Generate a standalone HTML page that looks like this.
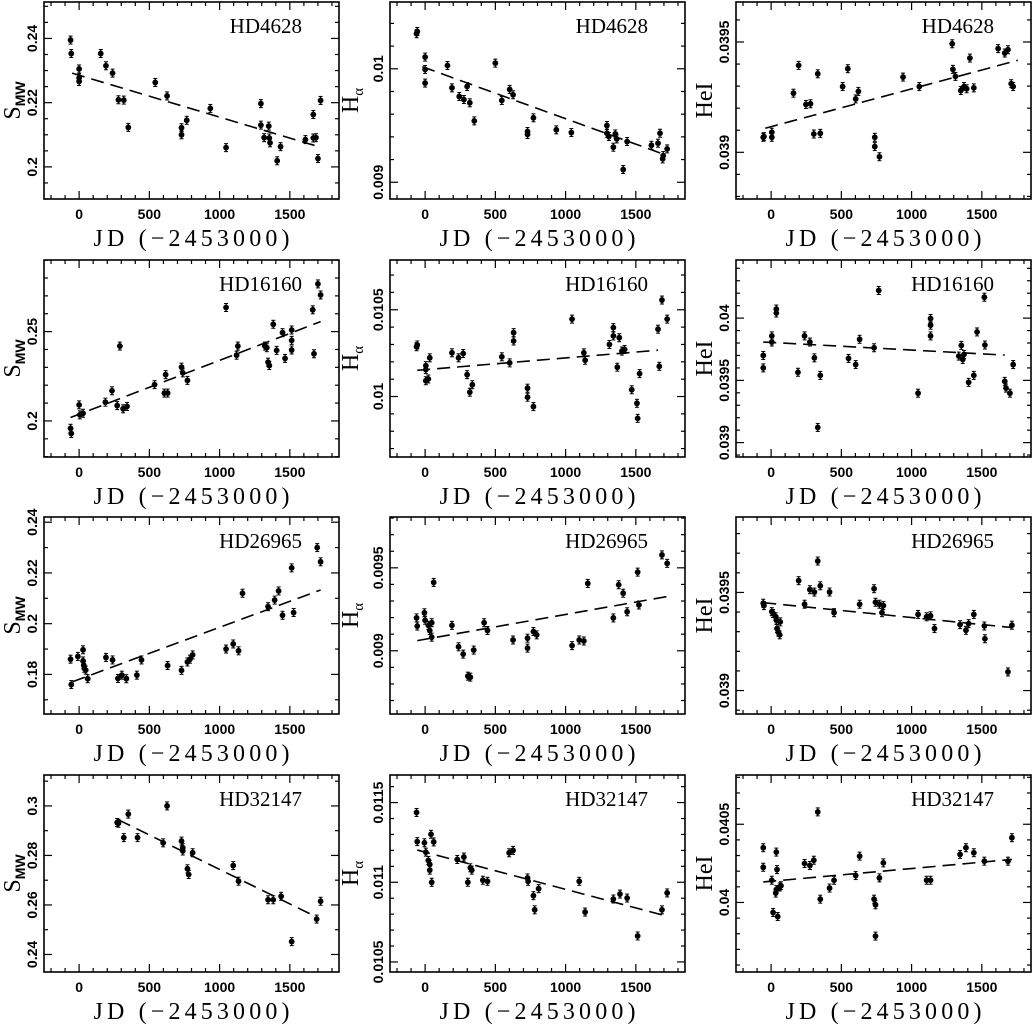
<!DOCTYPE html>
<html><head><meta charset="utf-8"><style>
html,body{margin:0;padding:0;background:#fff;}
svg{display:block;}
text{fill:#000;}
.tl{font-family:"Liberation Sans",sans-serif;font-size:14px;font-weight:bold;}
.ser{font-family:"Liberation Serif",serif;}
</style></head><body>
<svg id="fig" width="1033" height="1031" viewBox="0 0 1033 1031" xmlns="http://www.w3.org/2000/svg"></svg>
<script>
// ---- data (JD-2453000, value) ----
const p11x=[-61,-56,0,0,0,154,191,238,280,318,350,542,626,729,729,766,934,1046,1294,1294,1317,1350,1354,1359,1434,1410,1611,1667,1667,1686,1700,1719];
const p11y=[0.2395,0.2353,0.2305,0.2277,0.2266,0.2353,0.2315,0.2292,0.2209,0.2208,0.2123,0.2263,0.2221,0.2122,0.2100,0.2145,0.2182,0.2060,0.2197,0.2130,0.2091,0.2127,0.2090,0.2075,0.2063,0.2019,0.2085,0.2163,0.2090,0.2091,0.2026,0.2207];
const p11fit=[-50,1720,0.2292,0.2061];
const p12x=[-61,-56,0,0,0,159,191,243,276,318,299,350,500,546,602,626,729,729,771,934,1041,1294,1294,1308,1340,1354,1364,1410,1438,1611,1658,1672,1691,1695,1723];
const p12y=[0.010309,0.010329,0.010103,0.009994,0.009874,0.010029,0.009832,0.009756,0.009729,0.009700,0.009844,0.009541,0.010050,0.009721,0.009818,0.009771,0.009447,0.009421,0.009568,0.009462,0.009438,0.009500,0.009432,0.009403,0.009309,0.009426,0.009382,0.009112,0.009359,0.009326,0.009344,0.009432,0.009206,0.009235,0.009294];
const p12fit=[-20,1720,0.010018,0.009237];
const p13x=[-56,-51,5,5,159,196,248,280,304,332,350,509,546,602,621,738,738,771,939,1055,1289,1294,1312,1350,1373,1392,1415,1443,1616,1663,1686,1709,1723];
const p13y=[0.039068,0.039071,0.039091,0.039068,0.039268,0.039394,0.039217,0.039220,0.039083,0.039356,0.039086,0.039298,0.039379,0.039242,0.039276,0.039026,0.039068,0.038980,0.039341,0.039298,0.039492,0.039376,0.039344,0.039280,0.039298,0.039288,0.039427,0.039292,0.039470,0.039450,0.039465,0.039311,0.039298];
const p13fit=[-42,1756,0.039109,0.039417];
const p21x=[-61,-56,0,5,28,187,234,271,313,341,290,537,607,630,616,729,738,771,1046,1130,1121,1322,1336,1345,1354,1382,1406,1448,1466,1513,1513,1513,1663,1672,1700,1719];
const p21y=[0.1959,0.1930,0.2090,0.2034,0.2043,0.2105,0.2169,0.2086,0.2068,0.2081,0.2419,0.2203,0.2156,0.2156,0.2259,0.2301,0.2269,0.2227,0.2635,0.2419,0.2368,0.2419,0.2410,0.2329,0.2310,0.2541,0.2395,0.2494,0.2350,0.2509,0.2451,0.2397,0.2622,0.2376,0.2767,0.2705];
const p21fit=[-61,1719,0.2019,0.2556];
const p22x=[-61,-56,5,5,5,23,33,191,238,271,299,318,336,546,602,630,630,729,729,771,1046,1130,1139,1312,1340,1340,1368,1382,1401,1420,1471,1508,1513,1527,1658,1667,1686,1723];
const p22y=[0.010287,0.010297,0.010178,0.010155,0.010091,0.010101,0.010223,0.010252,0.010223,0.010248,0.010126,0.010025,0.010068,0.010229,0.010194,0.010368,0.010320,0.010048,0.009996,0.009942,0.010446,0.010252,0.010209,0.010300,0.010397,0.010349,0.010169,0.010339,0.010262,0.010271,0.010039,0.009961,0.009874,0.010132,0.010388,0.010174,0.010556,0.010446];
const p22fit=[-56,1658,0.010151,0.010267];
const p23x=[-56,-56,5,5,37,37,191,238,276,308,332,350,551,602,630,733,766,1046,1135,1135,1135,1336,1354,1364,1373,1406,1443,1466,1518,1522,1663,1672,1700,1723];
const p23y=[0.039700,0.039600,0.039857,0.039808,0.040073,0.040041,0.039565,0.039857,0.039808,0.039681,0.039122,0.039540,0.039676,0.039627,0.039830,0.039762,0.040222,0.039397,0.039997,0.039943,0.039857,0.039695,0.039781,0.039668,0.039708,0.039484,0.039540,0.039889,0.040168,0.039784,0.039492,0.039438,0.039397,0.039627];
const p23fit=[-56,1663,0.039808,0.039703];
const p31x=[-61,-56,-9,28,28,33,37,47,61,191,238,276,304,336,411,444,630,729,771,789,808,1046,1097,1135,1163,1345,1392,1420,1448,1513,1527,1695,1719];
const p31y=[0.1860,0.1760,0.1871,0.1897,0.1853,0.1836,0.1824,0.1817,0.1783,0.1867,0.1857,0.1784,0.1797,0.1783,0.1797,0.1857,0.1835,0.1816,0.1849,0.1860,0.1877,0.1900,0.1920,0.1893,0.2120,0.2067,0.2093,0.2129,0.2033,0.2220,0.2044,0.2300,0.2244];
const p31fit=[-47,1719,0.1771,0.2133];
const p32x=[-61,-56,-5,0,23,33,47,47,61,191,238,271,304,322,346,420,444,626,729,729,771,794,1046,1097,1130,1158,1340,1378,1410,1438,1513,1522,1686,1723];
const p32y=[0.009198,0.009149,0.009229,0.009184,0.009153,0.009122,0.009169,0.009082,0.009412,0.009153,0.009024,0.008980,0.008847,0.008841,0.009004,0.009169,0.009122,0.009065,0.009076,0.009016,0.009116,0.009096,0.009031,0.009065,0.009059,0.009406,0.009198,0.009398,0.009347,0.009235,0.009474,0.009276,0.009578,0.009527];
const p32fit=[-56,1723,0.009061,0.009327];
const p33x=[-56,-51,5,14,33,37,42,51,61,65,196,238,276,308,332,350,416,448,630,733,743,771,799,789,1046,1107,1135,1163,1345,1387,1406,1443,1518,1522,1686,1714];
const p33y=[0.039445,0.039433,0.039402,0.039393,0.039376,0.039359,0.039316,0.039298,0.039284,0.039350,0.039560,0.039440,0.039514,0.039502,0.039660,0.039534,0.039502,0.039397,0.039440,0.039519,0.039450,0.039440,0.039433,0.039397,0.039388,0.039376,0.039381,0.039316,0.039336,0.039307,0.039341,0.039388,0.039329,0.039264,0.039095,0.039333];
const p33fit=[-56,1714,0.039448,0.039321];
const p41x=[271,280,318,350,416,598,626,729,738,738,771,780,808,1097,1135,1345,1382,1438,1513,1691,1719];
const p41y=[0.2933,0.2930,0.2872,0.2967,0.2872,0.2851,0.3000,0.2858,0.2831,0.2818,0.2746,0.2723,0.2811,0.2759,0.2696,0.2621,0.2621,0.2635,0.2452,0.2543,0.2615];
const p41fit=[280,1691,0.2944,0.2551];
const p42x=[-61,-56,-5,5,23,33,33,42,47,61,229,276,304,322,332,411,444,598,626,729,733,771,780,808,1097,1139,1340,1387,1438,1513,1686,1723];
const p42y=[0.011438,0.011255,0.011248,0.011189,0.011137,0.011112,0.011076,0.011301,0.011000,0.011253,0.011143,0.011158,0.011000,0.011091,0.011076,0.011013,0.011006,0.011185,0.011200,0.011027,0.011006,0.010916,0.010827,0.010960,0.011006,0.010813,0.010895,0.010926,0.010901,0.010663,0.010827,0.010933];
const p42fit=[-56,1714,0.011202,0.010789];
const p43x=[-56,-56,5,14,33,37,37,42,47,61,70,238,276,304,332,350,416,448,602,630,733,743,743,771,799,1107,1135,1345,1387,1443,1518,1686,1714];
const p43y=[0.040350,0.040225,0.040142,0.039936,0.040060,0.040082,0.040322,0.040210,0.039910,0.040099,0.040107,0.040249,0.040236,0.040270,0.040579,0.040021,0.040092,0.040142,0.040172,0.040296,0.040021,0.039985,0.039785,0.040157,0.040253,0.040142,0.040142,0.040307,0.040350,0.040318,0.040264,0.040264,0.040414];
const p43fit=[-56,1714,0.040131,0.040275];
const starNames=["HD4628","HD16160","HD26965","HD32147"];
const xTickLabels=[0,500,1000,1500];

// ---- layout / axes ----
const NS="http://www.w3.org/2000/svg";
const svg=document.getElementById('fig');
const colLeft=[44,390,736], rowTop=[2,260,517,775], W=295, H=197;
const XMIN=-250, XMAX=1850;
// calibration: [v1,frac1,v2,frac2,majorStep,minorStep]
const panels=[
 [p11x,p11y,p11fit,[0.24,0.185,0.2,0.837,0.02,0.005]],
 [p12x,p12y,p12fit,[0.01,0.339,0.009,0.915,0.001,0.0002]],
 [p13x,p13y,p13fit,[0.0395,0.203,0.039,0.763,0.0005,0.0001]],
 [p21x,p21y,p21fit,[0.25,0.3635,0.2,0.817,0.05,0.01]],
 [p22x,p22y,p22fit,[0.0105,0.2526,0.01,0.693,0.0005,0.0001]],
 [p23x,p23y,p23fit,[0.04,0.295,0.039,0.927,0.0005,0.0001]],
 [p31x,p31y,p31fit,[0.22,0.284,0.18,0.799,0.02,0.01]],
 [p32x,p32y,p32fit,[0.0095,0.258,0.009,0.679,0.0005,0.0001]],
 [p33x,p33y,p33fit,[0.0395,0.383,0.039,0.881,0.0005,0.0001]],
 [p41x,p41y,p41fit,[0.3,0.157,0.24,0.911,0.02,0.01]],
 [p42x,p42y,p42fit,[0.0115,0.140,0.0105,0.949,0.0005,0.0001]],
 [p43x,p43y,p43fit,[0.0405,0.250,0.04,0.647,0.0005,0.0001]]
];
const kinds=['s','ha','he'];
function mk(tag,attrs,parent){const e=document.createElementNS(NS,tag);for(const k in attrs)e.setAttribute(k,attrs[k]);(parent||svg).appendChild(e);return e;}

panels.forEach((p,i)=>{
  const r=Math.floor(i/3), c=i%3, L=colLeft[c], T=rowTop[r];
  const [xs,ys,fit,cal]=p;
  const [v1,f1,v2,f2,maj,mnr]=cal;
  const sx=v=>L+(v-XMIN)/(XMAX-XMIN)*W;
  const sy=v=>T+H*(f1+(v-v1)*(f2-f1)/(v2-v1));
  const fy=y=>v1+((y-T)/H-f1)*(v2-v1)/(f2-f1);
  const g=mk('g',{});
  
  
  const fr=mk('rect',{x:L,y:T,width:W,height:H,fill:'none',stroke:'#000','stroke-width':1.6},g);
  
  
  for(let t=-200;t<=1800;t+=100){
    const x=sx(t), len=(t%500===0)?8:4;
    mk('line',{x1:x,y1:T+H,x2:x,y2:T+H-len,stroke:'#000','stroke-width':1.2},g);
    mk('line',{x1:x,y1:T,x2:x,y2:T+len,stroke:'#000','stroke-width':1.2},g);
  }
  xTickLabels.forEach(t=>{
    const tx=mk('text',{x:sx(t),y:T+H+20,'text-anchor':'middle',class:'tl'},g);
    tx.textContent=t;
    
    
  });
  const xt=mk('text',{x:L+W/2-98,y:T+H+47,class:'ser','font-size':24,textLength:196,lengthAdjust:'spacing'},g);
  xt.textContent='JD (\u22122453000)';
  
  
  const vTop=fy(T), vBot=fy(T+H);
  const lo=Math.min(vTop,vBot), hi=Math.max(vTop,vBot);
  for(let k=Math.ceil(lo/mnr-1e-6);k*mnr<=hi+1e-12;k++){
    const v=k*mnr, y=sy(v);
    const isMaj=Math.abs(v/maj-Math.round(v/maj))<1e-4;
    const len=isMaj?8:4;
    mk('line',{x1:L,y1:y,x2:L+len,y2:y,stroke:'#000','stroke-width':1.2},g);
    mk('line',{x1:L+W,y1:y,x2:L+W-len,y2:y,stroke:'#000','stroke-width':1.2},g);
    if(isMaj){
      const lab=parseFloat(v.toFixed(6)).toString();
      const tx=mk('text',{x:0,y:0,'text-anchor':'middle',class:'tl',transform:`translate(${L-7},${y}) rotate(-90)`},g);
      tx.textContent=lab;
      
      
    }
  }
  const yOff=(c===1)?32:24;
  const yt=mk('text',{x:0,y:0,'text-anchor':'middle',class:'ser','font-size':24,transform:`translate(${L-yOff},${T+H/2}) rotate(-90)`},g);
  if(c===0){yt.innerHTML='S<tspan font-size="14" dy="5" font-family="Liberation Sans" font-weight="bold">MW</tspan>';}
  else if(c===1){yt.innerHTML='H<tspan font-size="15" dy="5">\u03b1</tspan>';}
  else{yt.textContent='HeI';}
  
  
  const st=mk('text',{x:L+W-37,y:T+31,'text-anchor':'end',class:'ser','font-size':21},g);
  st.textContent=starNames[r];
  
  
  const fl=mk('line',{x1:sx(fit[0]),y1:sy(fit[2]),x2:sx(fit[1]),y2:sy(fit[3]),stroke:'#000','stroke-width':1.6,'stroke-dasharray':'13 7'},g);
  
  
  xs.forEach((xv,j)=>{
    const cx=sx(xv), cy=sy(ys[j]);
    mk('line',{x1:cx,y1:cy-4,x2:cx,y2:cy+4,stroke:'#000','stroke-width':1.3},g);
    mk('line',{x1:cx-2,y1:cy-4,x2:cx+2,y2:cy-4,stroke:'#000','stroke-width':1},g);
    mk('line',{x1:cx-2,y1:cy+4,x2:cx+2,y2:cy+4,stroke:'#000','stroke-width':1},g);
    const d=mk('circle',{cx:cx,cy:cy,r:2.9,fill:'#000'},g);
    
    
  });
});
</script>
</body></html>
